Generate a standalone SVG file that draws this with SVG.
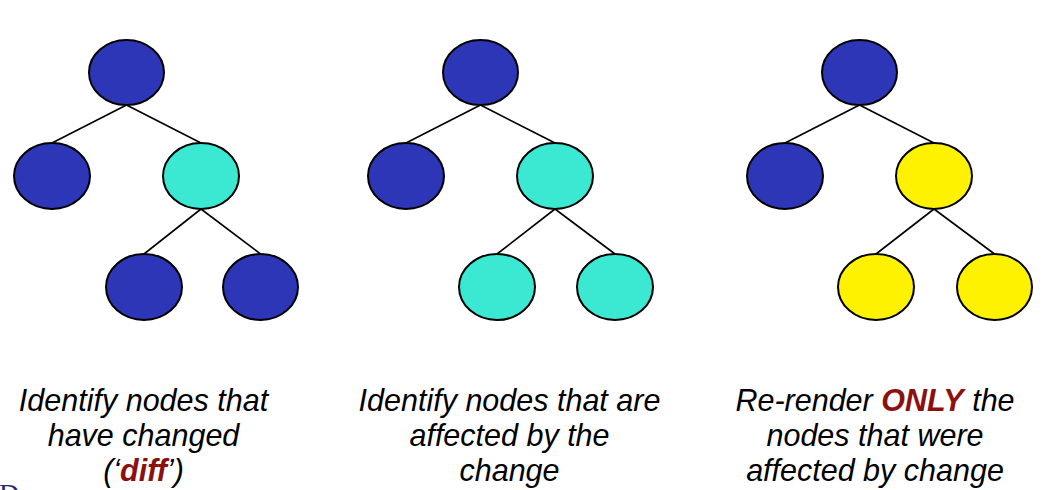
<svg xmlns="http://www.w3.org/2000/svg" width="1047" height="490" viewBox="0 0 1047 490">
<style>
.n{stroke:#000;stroke-width:2}
.b{fill:#2d36b7}
.c{fill:#3be8d2}
.y{fill:#fff200}
.e line{stroke:#000;stroke-width:1.6}
.t{font-family:"Liberation Sans",Arial,sans-serif;font-style:italic;font-size:30.5px;fill:#000;text-anchor:middle}
.h{font-weight:bold;fill:#8b1010}
</style>
<rect width="1047" height="490" fill="#fff"/>
<g class="e" id="connectors">
<line x1="126.5" y1="105" x2="52" y2="143"/>
<line x1="126.5" y1="105" x2="201" y2="143"/>
<line x1="201" y1="209" x2="144" y2="254"/>
<line x1="201" y1="209" x2="260.5" y2="254"/>
<line x1="480.5" y1="105" x2="406" y2="143"/>
<line x1="480.5" y1="105" x2="555" y2="143"/>
<line x1="555" y1="209" x2="497" y2="254"/>
<line x1="555" y1="209" x2="615" y2="254"/>
<line x1="859.5" y1="105" x2="785" y2="143"/>
<line x1="859.5" y1="105" x2="934" y2="143"/>
<line x1="934" y1="209" x2="876" y2="254"/>
<line x1="934" y1="209" x2="994.5" y2="254"/>
</g>
<g id="t1-root"><ellipse class="n b" cx="126.5" cy="72.5" rx="37.5" ry="32.5"/></g>
<g id="t1-left"><ellipse class="n b" cx="52" cy="176" rx="38" ry="33"/></g>
<g id="t1-right"><ellipse class="n c" cx="201" cy="176" rx="38" ry="33"/></g>
<g id="t1-bl"><ellipse class="n b" cx="144" cy="287" rx="38" ry="33"/></g>
<g id="t1-br"><ellipse class="n b" cx="260.5" cy="287" rx="37.5" ry="33"/></g>
<g id="t2-root"><ellipse class="n b" cx="480.5" cy="72.5" rx="37.5" ry="32.5"/></g>
<g id="t2-left"><ellipse class="n b" cx="406" cy="176" rx="38" ry="33"/></g>
<g id="t2-right"><ellipse class="n c" cx="555" cy="176" rx="38" ry="33"/></g>
<g id="t2-bl"><ellipse class="n c" cx="497" cy="287" rx="38" ry="33"/></g>
<g id="t2-br"><ellipse class="n c" cx="615" cy="287" rx="38" ry="33"/></g>
<g id="t3-root"><ellipse class="n b" cx="859.5" cy="72.5" rx="37.5" ry="32.5"/></g>
<g id="t3-left"><ellipse class="n b" cx="785" cy="176" rx="38" ry="33"/></g>
<g id="t3-right"><ellipse class="n y" cx="934" cy="176" rx="38" ry="33"/></g>
<g id="t3-bl"><ellipse class="n y" cx="876" cy="287" rx="38" ry="33"/></g>
<g id="t3-br"><ellipse class="n y" cx="994.5" cy="287" rx="37.5" ry="33"/></g>
<g id="caption1">
<text class="t" x="143.5" y="411">Identify nodes that</text>
<text class="t" x="143.5" y="446">have changed</text>
<text class="t" x="143.5" y="481">(‘<tspan class="h">diff</tspan>’)</text>
</g>
<g id="caption2">
<text class="t" x="509.5" y="411">Identify nodes that are</text>
<text class="t" x="509.5" y="446">affected by the</text>
<text class="t" x="509.5" y="481">change</text>
</g>
<g id="caption3">
<text class="t" x="875" y="411">Re-render <tspan class="h">ONLY</tspan> the</text>
<text class="t" x="875" y="446">nodes that were</text>
<text class="t" x="875" y="481">affected by change</text>
</g>
<text x="-1" y="503" font-family="Liberation Serif,serif" font-size="28" fill="#1f2a70">D</text>
</svg>
